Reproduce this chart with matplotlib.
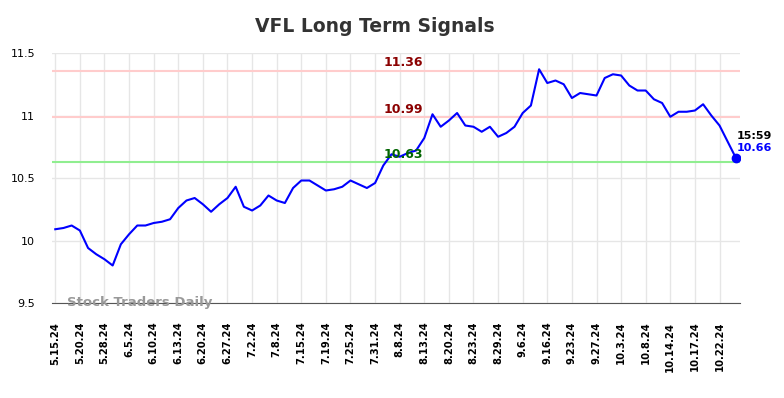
import matplotlib
matplotlib.use("Agg")
import matplotlib.pyplot as plt

# tick dates (every 3rd trading day)
tick_labels = ["5.15.24", "5.20.24", "5.28.24", "6.5.24", "6.10.24", "6.13.24",
               "6.20.24", "6.27.24", "7.2.24", "7.8.24", "7.15.24", "7.19.24",
               "7.25.24", "7.31.24", "8.8.24", "8.13.24", "8.20.24", "8.23.24",
               "8.29.24", "9.6.24", "9.16.24", "9.23.24", "9.27.24", "10.3.24",
               "10.8.24", "10.14.24", "10.17.24", "10.22.24"]

# daily closes
prices = [10.09, 10.10, 10.12, 10.08, 9.94, 9.89, 9.85, 9.80, 9.97, 10.05,
          10.12, 10.12, 10.14, 10.15, 10.17, 10.26, 10.32, 10.34, 10.29, 10.23,
          10.29, 10.34, 10.43, 10.27, 10.24, 10.28, 10.36, 10.32, 10.30, 10.42,
          10.48, 10.48, 10.44, 10.40, 10.41, 10.43, 10.48, 10.45, 10.42, 10.46,
          10.60, 10.69, 10.67, 10.70, 10.72, 10.82, 11.01, 10.91, 10.96, 11.02,
          10.92, 10.91, 10.87, 10.91, 10.83, 10.86, 10.91, 11.02, 11.08, 11.37,
          11.26, 11.28, 11.25, 11.14, 11.18, 11.17, 11.16, 11.30, 11.33, 11.32,
          11.24, 11.20, 11.20, 11.13, 11.10, 10.99, 11.03, 11.03, 11.04, 11.09,
          11.00, 10.92, 10.79, 10.66]

resistance_hi = 11.36
resistance_lo = 10.99
support = 10.63
last_time = "15:59"

fig = plt.figure(figsize=(7.84, 3.98), dpi=100)
ax = fig.add_axes([0.0663, 0.2387, 0.8776, 0.6281])

x = list(range(len(prices)))
ax.plot(x, prices, color="blue", linewidth=1.5, zorder=3)
ax.plot(x[-1], prices[-1], "o", color="blue", markersize=6, zorder=4)

ax.axhline(resistance_hi, color="#ffcccc", linewidth=1.5, zorder=2)
ax.axhline(resistance_lo, color="#ffcccc", linewidth=1.5, zorder=2)
ax.axhline(support, color="#90ee90", linewidth=1.5, zorder=2)

mid = 42.5
for val, col in [(resistance_hi, "#8b0000"), (resistance_lo, "#8b0000"), (support, "#006400")]:
    ax.text(mid, val + 0.01, f"{val:.2f}", color=col, fontsize=9, fontweight="bold",
            ha="center", va="bottom", zorder=5)

ax.text(x[-1] + 0.1, prices[-1] + 0.04, f"{prices[-1]:.2f}", color="blue", fontsize=8,
        fontweight="bold", ha="left", va="bottom")
ax.text(x[-1] + 0.1, prices[-1] + 0.135, last_time, color="black", fontsize=8,
        fontweight="bold", ha="left", va="bottom")

ax.text(1.4, 9.5, "Stock Traders Daily", color="#999999", fontsize=9.5,
        fontweight="bold", ha="left", va="center", zorder=5)

ax.set_xlim(-0.4, 83.5)
ax.set_ylim(9.5, 11.5)
ax.set_xticks(range(0, len(prices), 3))
ax.set_xticklabels(tick_labels, rotation=90, fontsize=7.2, fontweight="bold")
ax.set_yticks([9.5, 10, 10.5, 11, 11.5])
ax.set_yticklabels(["9.5", "10", "10.5", "11", "11.5"], fontsize=8)
ax.tick_params(axis="x", length=0, pad=13.5)
ax.tick_params(axis="y", length=0, pad=12)
ax.grid(True, color="#e6e6e6", linewidth=1)
ax.set_axisbelow(True)
for s in ["top", "right", "left"]:
    ax.spines[s].set_visible(False)
ax.spines["bottom"].set_color("#555555")

fig.text(375 / 784, 1 - 26 / 398, "VFL Long Term Signals", ha="center", va="center",
         fontsize=13.5, fontweight="bold", color="#333333")

fig.savefig("out.png", dpi=100)
